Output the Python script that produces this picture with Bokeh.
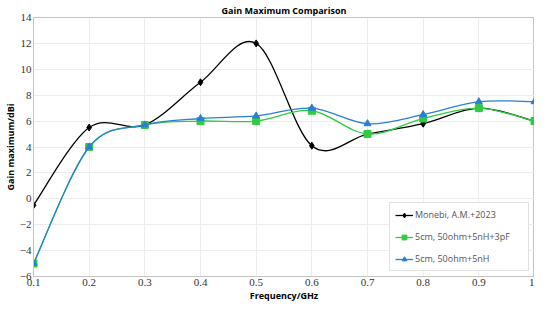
from bokeh.plotting import figure
from bokeh.models import Legend, LegendItem, FixedTicker, ColumnDataSource
from bokeh.embed import file_html
from bokeh.resources import INLINE

freq = [0.1, 0.2, 0.3, 0.4, 0.5, 0.6, 0.7, 0.8, 0.9, 1.0]
monebi = [-0.5, 5.5, 5.7, 9.0, 12.0, 4.1, 5.0, 5.8, 7.0, 6.0]
lc_match = [-5.0, 4.0, 5.7, 6.0, 6.0, 6.8, 5.0, 6.2, 7.0, 6.0]
l_match = [-5.0, 4.0, 5.7, 6.2, 6.4, 7.0, 5.8, 6.5, 7.5, 7.5]
names = ["Monebi, A.M.+2023", "5cm, 50ohm+5nH+3pF", "5cm, 50ohm+5nH"]
x_ticks = [0.1, 0.2, 0.3, 0.4, 0.5, 0.6, 0.7, 0.8, 0.9, 1.0]
x_tick_labels = ["0.1", "0.2", "0.3", "0.4", "0.5", "0.6", "0.7", "0.8", "0.9", "1"]
y_ticks = [-6, -4, -2, 0, 2, 4, 6, 8, 10, 12, 14]


def smooth_segments(xs, ys):
    n = len(xs)
    d = dict(x0=[], y0=[], x1=[], y1=[], cx0=[], cy0=[], cx1=[], cy1=[])
    for i in range(n - 1):
        pm = max(i - 1, 0)
        pp = min(i + 2, n - 1)
        d["x0"].append(xs[i]); d["y0"].append(ys[i])
        d["x1"].append(xs[i + 1]); d["y1"].append(ys[i + 1])
        d["cx0"].append(xs[i] + (xs[i + 1] - xs[pm]) / 6)
        d["cy0"].append(ys[i] + (ys[i + 1] - ys[pm]) / 6)
        d["cx1"].append(xs[i + 1] - (xs[pp] - xs[i]) / 6)
        d["cy1"].append(ys[i + 1] - (ys[pp] - ys[i]) / 6)
    return ColumnDataSource(d)


p = figure(width=534, height=304, output_backend="svg", toolbar_location=None,
           x_range=(0.1, 1.0), y_range=(-6, 14),
           min_border_left=0, min_border_right=0, min_border_top=0, min_border_bottom=0)

p.title.text = "Gain Maximum Comparison"
p.title.align = "center"
p.title.text_font = "Open Sans"
p.title.text_font_size = "9px"
p.title.text_font_style = "bold"
p.title.text_color = "#000000"
p.title.standoff = 2
p.title.offset = 0

p.outline_line_color = "#c4c4c4"
p.outline_line_width = 1
p.xgrid.grid_line_color = "#ececec"
p.ygrid.grid_line_color = "#ececec"

p.xaxis.ticker = FixedTicker(ticks=x_ticks)
p.xaxis.major_label_overrides = {t: l for t, l in zip(x_ticks, x_tick_labels)}
p.yaxis.ticker = FixedTicker(ticks=y_ticks)
for ax in (p.xaxis, p.yaxis):
    ax.axis_line_color = "#c4c4c4"
    ax.major_tick_line_color = None
    ax.minor_tick_line_color = None
    ax.major_tick_out = 0
    ax.major_tick_in = 0
    ax.major_label_text_font = "Liberation Serif"
    ax.major_label_text_font_size = "11px"
    ax.major_label_text_color = "#333333"
    ax.major_label_text_line_height = 0.9
    ax.major_label_standoff = 2
    ax.axis_label_text_font = "Open Sans"
    ax.axis_label_text_font_size = "9px"
    ax.axis_label_text_font_style = "bold"
    ax.axis_label_text_color = "#000000"
    ax.axis_label_text_line_height = 0.9
    ax.axis_label_standoff = 0
p.xaxis.axis_label = "Frequency/GHz"
p.yaxis.axis_label = "Gain maximum/dBi"

series = [
    (monebi, "#000000", "diamond", 7),
    (lc_match, "#2ecc40", "square", 7),
    (l_match, "#2a7fd4", "triangle", 7),
]
items = []
for (ys, color, marker, size), name in zip(series, names):
    src = smooth_segments(freq, ys)
    br = p.bezier(x0="x0", y0="y0", x1="x1", y1="y1", cx0="cx0", cy0="cy0",
                  cx1="cx1", cy1="cy1", source=src, line_color=color, line_width=1.3)
    sr = p.scatter(freq, ys, marker=marker, size=size, fill_color=color, line_color=color)
    items.append(LegendItem(label=name, renderers=[br, sr]))

legend = Legend(items=items, location="bottom_right")
legend.label_text_font = "Open Sans"
legend.label_text_font_size = "9px"
legend.label_text_color = "#555555"
legend.border_line_color = "#c4c4c4"
legend.background_fill_color = "#ffffff"
legend.glyph_width = 18
legend.glyph_height = 12
legend.label_height = 12
legend.spacing = 9
legend.padding = 5
legend.margin = 5
legend.label_standoff = 2
legend.label_width = 108
p.add_layout(legend)

open("out.html", "w").write(file_html(p, INLINE))
